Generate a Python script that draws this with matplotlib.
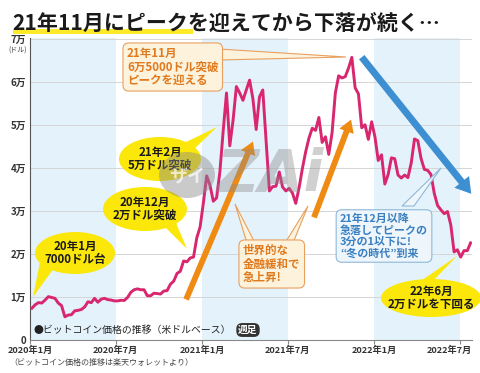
import matplotlib
matplotlib.use('Agg')
import matplotlib.pyplot as plt
from matplotlib.patches import Ellipse, Polygon, FancyArrowPatch, Rectangle
from matplotlib.transforms import Affine2D, ScaledTranslation
import pandas as pd

plt.rcParams['font.family'] = ['Noto Sans CJK JP', 'DejaVu Sans']

# weekly close (USD)
p2020 = [7400, 8200, 8700, 8600, 9300, 10100, 9900, 9700, 8600, 8000, 5400, 5800, 5900,
         6800, 6900, 7100, 7700, 8900, 8700, 9700, 8800, 9500, 9700, 9400, 9300, 9100,
         9100, 9250, 9200, 9900, 11100, 11700, 11900, 11700, 11700, 10300, 10300, 10900, 10800,
         10700, 11400, 11500, 13000, 13700, 15500, 16000, 18400, 18200, 19100, 19300, 23800, 26300]
p2021 = [32000, 38200, 36000, 32300, 33100, 39200, 48700, 57500, 45200, 51200, 59000, 57500, 55800,
         58200, 60500, 56200, 49000, 56600, 58200, 46400, 34700, 35700, 35800, 39100, 35600, 34700,
         35300, 34200, 31800, 35400, 39900, 43800, 47000, 49300, 48800, 51800, 46000, 47300, 43200,
         48200, 57500, 61500, 61000, 61300, 63300, 65800, 58700, 57300, 49400, 50100, 46700, 50800]
p2022 = [47300, 41800, 43100, 36300, 38500, 42400, 42200, 38400, 37700, 38400, 37800, 41200, 46800,
         46400, 42200, 39700, 39500, 38500, 34100, 31300, 30300, 29400, 29900, 26800, 20500, 21000,
         19300, 20800, 20800, 22600]
price = p2020 + p2021 + p2022
dates = pd.date_range('2020-01-05', periods=len(price), freq='7D')

tick_dates = ['2020-01-01', '2020-07-01', '2021-01-01', '2021-07-01', '2022-01-01', '2022-07-01']
tick_labels = ['2020年1月', '2020年7月', '2021年1月', '2021年7月', '2022年1月', '2022年7月']
y_ticks = [0, 10000, 20000, 30000, 40000, 50000, 60000, 70000]
y_labels = ['0', '1万', '2万', '3万', '4万', '5万', '6万', '7万']
bands = [('2020-01-01', '2020-07-01'), ('2021-01-01', '2021-07-01'), ('2022-01-01', '2022-07-01')]

LINE = '#d8266f'
YEL = '#fbe70a'
ORG = '#ef8a12'
BLUE = '#3d8fd1'

fig = plt.figure(figsize=(4.8, 3.73), dpi=100)
# pixel coords, origin top-left
pix = Affine2D().scale(1 / 480, -1 / 373).translate(0, 1) + fig.transFigure

ax = fig.add_axes([30 / 480, 33 / 373, 442 / 480, 302 / 373])
for a, b in bands:
    ax.axvspan(pd.Timestamp(a), pd.Timestamp(b), color='#e4f2fb', lw=0, zorder=0)
ax.plot(dates, price, color=LINE, lw=2.1, zorder=3, solid_joinstyle='round')

ax.set_xlim(pd.Timestamp('2020-01-01'), pd.Timestamp('2022-07-27'))
ax.set_ylim(0, 70300)
ax.set_yticks(y_ticks)
ax.set_yticklabels(y_labels, fontsize=7, fontweight='bold', color='#333333')
ax.set_xticks([pd.Timestamp(d) for d in tick_dates])
ax.set_xticklabels([])
xtrans = ax.get_xaxis_transform()
for i, (d, lab) in enumerate(zip(tick_dates, tick_labels)):
    tr = xtrans
    if i == len(tick_dates) - 1:
        tr = xtrans + ScaledTranslation(-0.1, 0, fig.dpi_scale_trans)
    ax.text(pd.Timestamp(d), -0.018, lab, transform=tr, ha='center', va='top', fontsize=6.6,
            fontweight='bold', color='#333333', clip_on=False)
ax.tick_params(axis='y', length=0, pad=3)
ax.tick_params(axis='x', length=3, color='#888888', pad=1)
ax.grid(axis='y', color='#d5d5d5', lw=0.7)
ax.set_axisbelow(True)
for s in ['top', 'right']:
    ax.spines[s].set_visible(False)
ax.spines['left'].set_color('#555555')
ax.spines['bottom'].set_color('#888888')
fig.text(27, 51, '(ドル)', transform=pix, fontsize=5, color='#333333', ha='right', va='center')

# title with yellow marker
fig.add_artist(Rectangle((13, 29), 180, 5, transform=pix, color='#ffea2a', lw=0, zorder=1))
fig.text(12, 23, '21年11月にピークを迎えてから下落が続く…', transform=pix, fontsize=15.1,
         fontweight='bold', color='#1a1a1a', va='center', zorder=2)


def bubble(cx, cy, w, h, tail, text):
    fig.add_artist(Polygon(tail, closed=True, transform=pix, color=YEL, lw=0, zorder=5))
    fig.add_artist(Ellipse((cx, cy), w, h, transform=pix, color=YEL, lw=0, zorder=5))
    fig.text(cx, cy, text, transform=pix, ha='center', va='center', fontsize=8.3,
             fontweight='bold', color='#1a1a1a', linespacing=1.05, zorder=6)


bubble(75, 253, 80, 42, [(40, 262), (54, 268), (33, 297)], '20年1月\n7000ドル台')
bubble(145, 209, 84, 44, [(160, 222), (174, 218), (187, 249)], '20年12月\n2万ドル突破')
bubble(160, 159, 82, 44, [(180, 145), (190, 153), (217, 127)], '21年2月\n5万ドル突破')
bubble(431, 298, 100, 38, [(415, 285), (430, 284), (457, 256)], '22年6月\n2万ドルを下回る')

# arrows
for a, b in [((185, 302), (254, 139)), ((313, 220), (352, 117))]:
    fig.add_artist(FancyArrowPatch(a, b, transform=pix, color=ORG, lw=0, zorder=4,
                                   arrowstyle='simple,head_length=0.9,head_width=1.1,tail_width=0.42',
                                   mutation_scale=10))
fig.add_artist(FancyArrowPatch((360, 55), (473, 196), transform=pix, color=BLUE, lw=0, zorder=4,
                               arrowstyle='simple,head_length=1.1,head_width=1.35,tail_width=0.5',
                               mutation_scale=10))

# orange callouts
fig.add_artist(Polygon([(219, 49), (219, 60), (346, 57)], closed=True, transform=pix,
                       fc='#fdf3dc', ec='#e8a060', lw=0.8, zorder=5))
fig.text(127, 67, '21年11月\n6万5000ドル突破\nピークを迎える', transform=pix, fontsize=8.3,
         fontweight='bold', color='#e07a1f', va='center', ha='left', linespacing=1.05, zorder=6,
         bbox=dict(boxstyle='round,pad=0.35,rounding_size=0.5', fc='#fdf3dc', ec='#e8a060', lw=0.8))

fig.add_artist(Polygon([(247, 243), (255, 243), (235, 204)], closed=True, transform=pix,
                       fc='#fdf3dc', ec='#e8a060', lw=0.8, zorder=5))
fig.add_artist(Polygon([(285, 243), (293, 243), (308, 206)], closed=True, transform=pix,
                       fc='#fdf3dc', ec='#e8a060', lw=0.8, zorder=5))
fig.text(243, 264, '世界的な\n金融緩和で\n急上昇!', transform=pix, fontsize=8.3,
         fontweight='bold', color='#e07a1f', va='center', ha='left', linespacing=1.05, zorder=6,
         bbox=dict(boxstyle='round,pad=0.35,rounding_size=0.5', fc='#fdf3dc', ec='#e8a060', lw=0.8))

# blue callout
fig.add_artist(Polygon([(402, 206), (414, 206), (441, 168)], closed=True, transform=pix,
                       fc='#eef6fc', ec='#8fb8d8', lw=0.8, zorder=5))
fig.text(340, 236, '21年12月以降\n急落してピークの\n3分の1以下に!\n“冬の時代”到来', transform=pix,
         fontsize=7.9, fontweight='bold', color='#3a7fc0', va='center', ha='left', linespacing=1.12,
         zorder=6, bbox=dict(boxstyle='round,pad=0.35,rounding_size=0.5', fc='#eef6fc', ec='#8fb8d8', lw=0.8))

# watermark
fig.add_artist(Ellipse((187, 175), 56, 46, transform=pix, color='#8a8a8a', alpha=0.45, lw=0, zorder=7))
fig.text(187, 177, 'ザイ', transform=pix, fontsize=13, fontweight='bold', color='white', alpha=0.7,
         ha='center', va='center', zorder=8)
fig.text(270, 176, 'ZAi', transform=pix, fontsize=42, fontweight='bold', style='italic',
         family='DejaVu Sans', color='#8a8a8a', alpha=0.4, ha='center', va='center', zorder=7)

# legend and source
fig.text(33, 330, '●ビットコイン価格の推移（米ドルベース）', transform=pix, fontsize=7.1,
         color='#222222', va='center', ha='left', zorder=6)
fig.text(248, 330, '週足', transform=pix, fontsize=7, fontweight='bold', color='white',
         va='center', ha='center', zorder=6,
         bbox=dict(boxstyle='round,pad=0.2,rounding_size=0.6', fc='#333333', ec='none'))
fig.text(9, 362, '（ビットコイン価格の推移は楽天ウォレットより）', transform=pix, fontsize=5.8,
         color='#444444', va='center', ha='left')

fig.savefig('out.png', dpi=100)
